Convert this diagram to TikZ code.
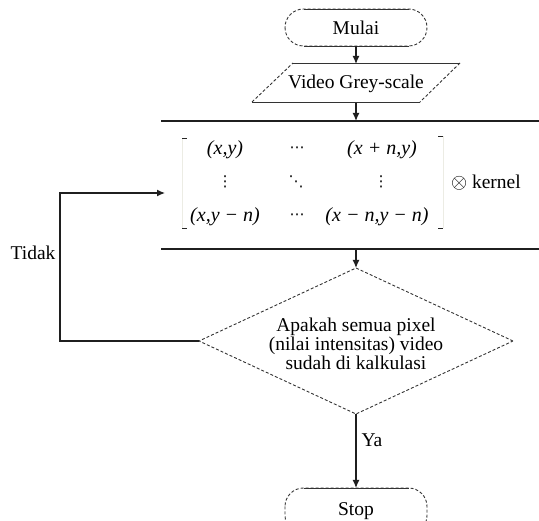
\documentclass[tikz,border=0pt]{standalone}
\usepackage{fontspec}
\setmainfont{Liberation Serif}
\newfontfamily\dotsfont{DejaVu Sans}
\usetikzlibrary{arrows.meta,shapes.geometric,calc}
\begin{document}
\begin{tikzpicture}[x=1pt,y=-1pt,
  mainline/.style={line width=1.3pt, draw=black!88},
  flow/.style={mainline, -{Latex[length=8pt,width=7pt]}},
  rim/.style={line width=0.9pt, draw=black!80},
  rimdash/.style={rim, dash pattern=on 3pt off 2pt},
  txt/.style={font=\fontsize{19.5}{19}\selectfont, inner sep=0pt, outer sep=0pt},
  mtx/.style={font=\fontsize{20}{22}\selectfont\itshape, inner sep=0pt},
  dotsym/.style={font=\fontsize{15}{16}\selectfont\dotsfont, inner sep=0pt},
  terminal/.style={txt, minimum width=142pt, minimum height=37pt},
  bracket/.style={line width=0.6pt, draw=yellow!30!black!12},
  tick/.style={line width=0.9pt, draw=black!85}]
\useasboundingbox (0,0) rectangle (539,521);
\clip (0,0) rectangle (539,521);

% start terminal
\node[terminal] (start) at (356,27.5) {Mulai};
\draw[rimdash, rounded corners=18.5pt] (start.north west) rectangle (start.south east);
\draw[rim] ($(start.north west)+(18.5,0)$) -- ($(start.north east)+(-18.5,0)$);
\draw[rim] ($(start.south west)+(18.5,0)$) -- ($(start.south east)+(-18.5,0)$);

% input parallelogram
\node[txt, minimum width=167pt, minimum height=39pt] (io) at (356,83.5) {Video Grey-scale};
\draw[rim] (293,63) -- (460,63);
\draw[rimdash] (460,63) -- (420,102);
\draw[rim] (420,102) -- (252,102);
\draw[rimdash] (252,102) -- (293,63);

% process block: only its horizontal rules are shown
\node[minimum height=128pt, minimum width=10pt, inner sep=0pt, outer sep=0pt] (proc) at (356,185) {};
\draw[mainline] (161,121) -- (545,121);
\draw[mainline] (161,249) -- (545,249);

% matrix entries
\node[mtx] (m11) at (225,150) {(x,y)};
\node[dotsym] (m12) at (297,150) {⋯};
\node[mtx] (m13) at (382,150) {(x + n,y)};
\node[dotsym] (m21) at (225,182) {⋮};
\node[dotsym] (m22) at (296,182) {⋱};
\node[dotsym] (m23) at (381,182) {⋮};
\node[mtx] (m31) at (225,217) {(x,y − n)};
\node[dotsym] (m32) at (297,217) {⋯};
\node[mtx] (m33) at (377,217) {(x − n,y − n)};
% brackets
\draw[bracket] (182,138) -- (182,228);
\draw[tick] (182,138) -- (187,138);
\draw[tick] (182,228) -- (187,228);
\draw[bracket] (443,136) -- (443,228);
\draw[tick] (443,136) -- (438,136);
\draw[tick] (443,228) -- (438,228);
\node[txt, anchor=west] (kern) at (451,183) {$\otimes$ kernel};

% decision
\node[diamond, rimdash, draw, minimum width=314pt, minimum height=146pt, inner sep=0pt, outer sep=0pt] (dec) at (356,341) {};
\node[txt, align=center] (dectxt) at (356,344) {Apakah semua pixel\\(nilai intensitas) video\\sudah di kalkulasi};

% stop terminal
\node[terminal, minimum height=46pt] (stop) at (356,511) {Stop};
\draw[rimdash, rounded corners=18.5pt] (stop.north west) rectangle (stop.south east);
\draw[rim] ($(stop.north west)+(18.5,0)$) -- ($(stop.north east)+(-18.5,0)$);

% connectors
\draw[flow] (start.south) -- (io.north);
\draw[flow] (io.south) -- (proc.north);
\draw[flow] (proc.south) -- (dec.north);
\draw[flow] (dec.south) -- (stop.north);
\node[txt] (ya) at (372,440) {Ya};

\coordinate (mtxin) at (165,193);
\coordinate (turn) at (60,193);
\draw[flow] (dec.west) -| (turn) -- (mtxin);
\node[txt] (tidak) at (33,253) {Tidak};
\end{tikzpicture}
\end{document}
